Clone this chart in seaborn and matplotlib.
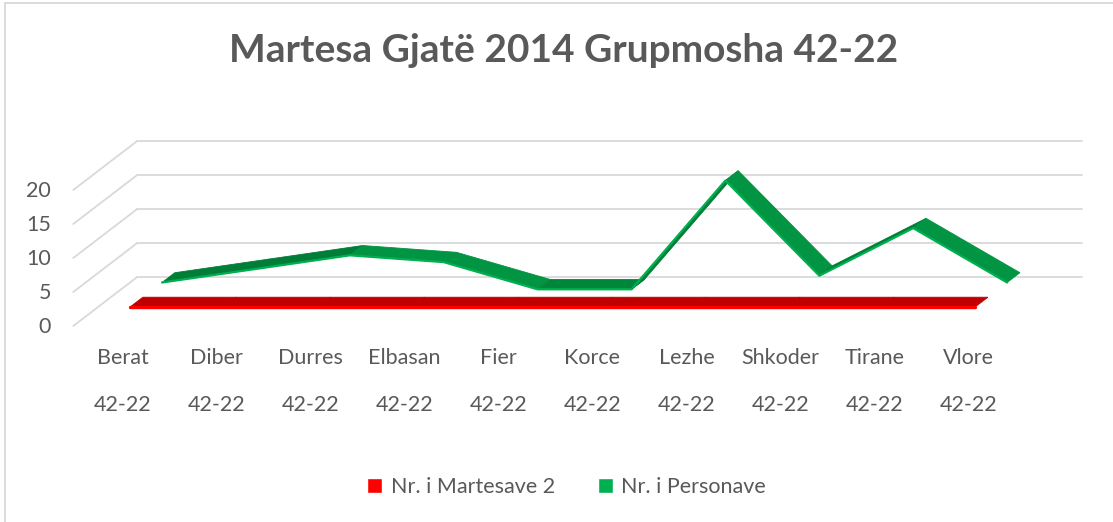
import numpy as np
import matplotlib
matplotlib.use('Agg')
import matplotlib.pyplot as plt
from matplotlib.patches import Patch
from matplotlib.lines import Line2D
import seaborn as sns

# Data
regions = ['Berat', 'Diber', 'Durres', 'Elbasan', 'Fier', 'Korce',
           'Lezhe', 'Shkoder', 'Tirane', 'Vlore']
age_groups = ['42-22'] * len(regions)
martesave = [2, 2, 2, 2, 2, 2, 2, 2, 2, 2]
personave = [2, 4, 6, 5, 1, 1, 17, 3, 10, 2]
y_ticks = [0, 5, 10, 15, 20]
series_names = ['Nr. i Martesave 2', 'Nr. i Personave']
title = 'Martesa Gjatë 2014 Grupmosha 42-22'

sns.set_theme(style='white')
plt.rcParams['font.family'] = ['Lato', 'DejaVu Sans']

TEXT = '#595959'
GRID = '#D9D9D9'
FS = 15.5

W, H = 1113, 522
fig = plt.figure(figsize=(W / 100, H / 100), dpi=100)
ax = fig.add_axes([0, 0, 1, 1])

# geometry of the fake 3D box (pixels)
x0_px, step_px = 123, 93.9     # first category, spacing between categories
zero_px, unit_px = 326, 6.8    # value 0 on front plane, px per unit
depth_dx, depth_dy = 64, 49    # front plane -> back wall shift

ax.set_xlim(-x0_px / step_px, (W - x0_px) / step_px)
ax.set_ylim((zero_px - H) / unit_px, zero_px / unit_px)
ax.axis('off')

DX = depth_dx / step_px
DY = depth_dy / unit_px


def proj(x, y, d):
    # oblique projection: depth d in [0, 1] moves right and up
    return np.asarray(x, float) + DX * np.asarray(d, float), np.asarray(y, float) + DY * np.asarray(d, float)


# walls: side wall diagonals + back wall gridlines
i0, i1 = -0.53, len(regions) - 1 + 0.53
for v in y_ticks:
    xs, ys = proj([i0, i0], [v, v], [0, 1])
    ax.plot(xs, ys, color=GRID, lw=1.3, zorder=1)
    xs, ys = proj([i0, i1], [v, v], [1, 1])
    ax.plot(xs, ys, color=GRID, lw=1.3, zorder=1)

# y tick labels on the front plane
for v in y_ticks:
    ax.text((51 - x0_px) / step_px, v - 0.2, str(v), ha='right', va='center',
            fontsize=FS, color=TEXT)

# category labels (two rows)
for k, (name, grp) in enumerate(zip(regions, age_groups)):
    ax.text(k, (zero_px - 358) / unit_px, name, ha='center', va='center',
            fontsize=FS, color=TEXT)
    ax.text(k, (zero_px - 405) / unit_px, grp, ha='center', va='center',
            fontsize=FS, color=TEXT)


def ribbon(values, d0, d1, rise_c, flat_c, fall_c, edge_c, edge_lw, z):
    idx = np.arange(len(values))
    v = np.asarray(values, float)
    for k in range(len(v) - 1):
        xf, yf = proj(idx[k:k + 2], v[k:k + 2], d0)
        xb, yb = proj(idx[k:k + 2], v[k:k + 2], d1)
        slope = v[k + 1] - v[k]
        c = rise_c if slope > 0 else (fall_c if slope < 0 else flat_c)
        ax.fill([xf[0], xf[1], xb[1], xb[0]], [yf[0], yf[1], yb[1], yb[0]],
                color=c, ec=c, lw=0.6, zorder=z)
    xf, yf = proj(idx, v, d0)
    sns.lineplot(x=xf, y=yf, color=edge_c, lw=edge_lw, sort=False,
                 ax=ax, legend=False, zorder=z + 0.5)


# back series first, then the front one
ribbon(personave, 0.61, 0.81, '#007D37', '#00863B', '#009443', '#00B050', 1.6, 3)
ribbon(martesave, 0.11, 0.31, '#C00000', '#C00000', '#C00000', '#FF0000', 2.4, 5)

# title
fig.text(0.506, 1 - 50 / H, title, ha='center', va='center', fontsize=28,
         fontweight='bold', color=TEXT)

# legend
handles = [Patch(facecolor='#FF0000'), Patch(facecolor='#00B050')]
fig.legend(handles, series_names, loc='center', bbox_to_anchor=(0.509, 1 - 487 / H),
           ncol=2, frameon=False, fontsize=FS, labelcolor=TEXT,
           handlelength=0.7, handleheight=0.7, handletextpad=0.4,
           columnspacing=2.0)

# chart-area border (only left and top edges are visible)
fig.add_artist(Line2D([5 / W, 5 / W], [0, 1 - 3 / H], color=GRID, lw=1.3,
                      transform=fig.transFigure))
fig.add_artist(Line2D([5 / W, 1], [1 - 3 / H, 1 - 3 / H], color=GRID, lw=1.3,
                      transform=fig.transFigure))

fig.savefig('out.png', dpi=100)
